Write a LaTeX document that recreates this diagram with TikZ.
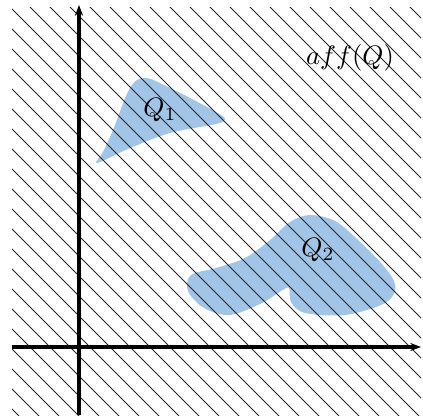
\documentclass[tikz,border=0pt]{standalone}
\usepackage{amsmath}
\usepackage{amssymb}
\usetikzlibrary{arrows.meta}
\definecolor{setblue}{RGB}{162,196,230}

\begin{document}
\begin{tikzpicture}[x=0.375pt, y=-0.375pt,
    axis/.style={line width=1.2pt, -{Stealth[length=4pt, width=3pt]}},
    hatch/.style={line width=0.35pt, black!85},
    blob/.style={fill=setblue, draw=none}]
  \useasboundingbox (0,0) rectangle (423,417);
  % the two sets
  \fill[blob] plot[smooth cycle, tension=0.6] coordinates {
    (145,78) (168,87) (192,99) (216,112) (225,119) (216,124)
    (170,133) (128,149) (97,163) (103,152) (113,130) (130,88)};
  \fill[blob] plot[smooth cycle, tension=0.55] coordinates {
    (310,215) (335,221) (357,239) (381,263) (394,281) (394,294)
    (381,305) (345,315) (305,313) (291,302) (289,288) (281,291)
    (262,303) (230,315) (204,308) (188,291) (191,275) (216,268)
    (245,258) (270,240) (290,222)};
  % hatching of aff(Q)
  \begin{scope}
    \clip (12,8) rectangle (421,415);
    \foreach \c in {-417,-397,...,423}
      \draw[hatch] (\c,0) -- ++(430,430);
  \end{scope}
  % axes
  \coordinate (xs) at (12,347);
  \coordinate (xe) at (421,347);
  \coordinate (ys) at (79,415);
  \coordinate (ye) at (79,5);
  \draw[axis] (xs) -- (xe);
  \draw[axis] (ys) -- (ye);
  % labels
  \node (q1) at (160,110) {$Q_1$};
  \node (q2) at (318,250) {$Q_2$};
  \node (aff) at (350,58) {$aff(Q)$};
\end{tikzpicture}
\end{document}
